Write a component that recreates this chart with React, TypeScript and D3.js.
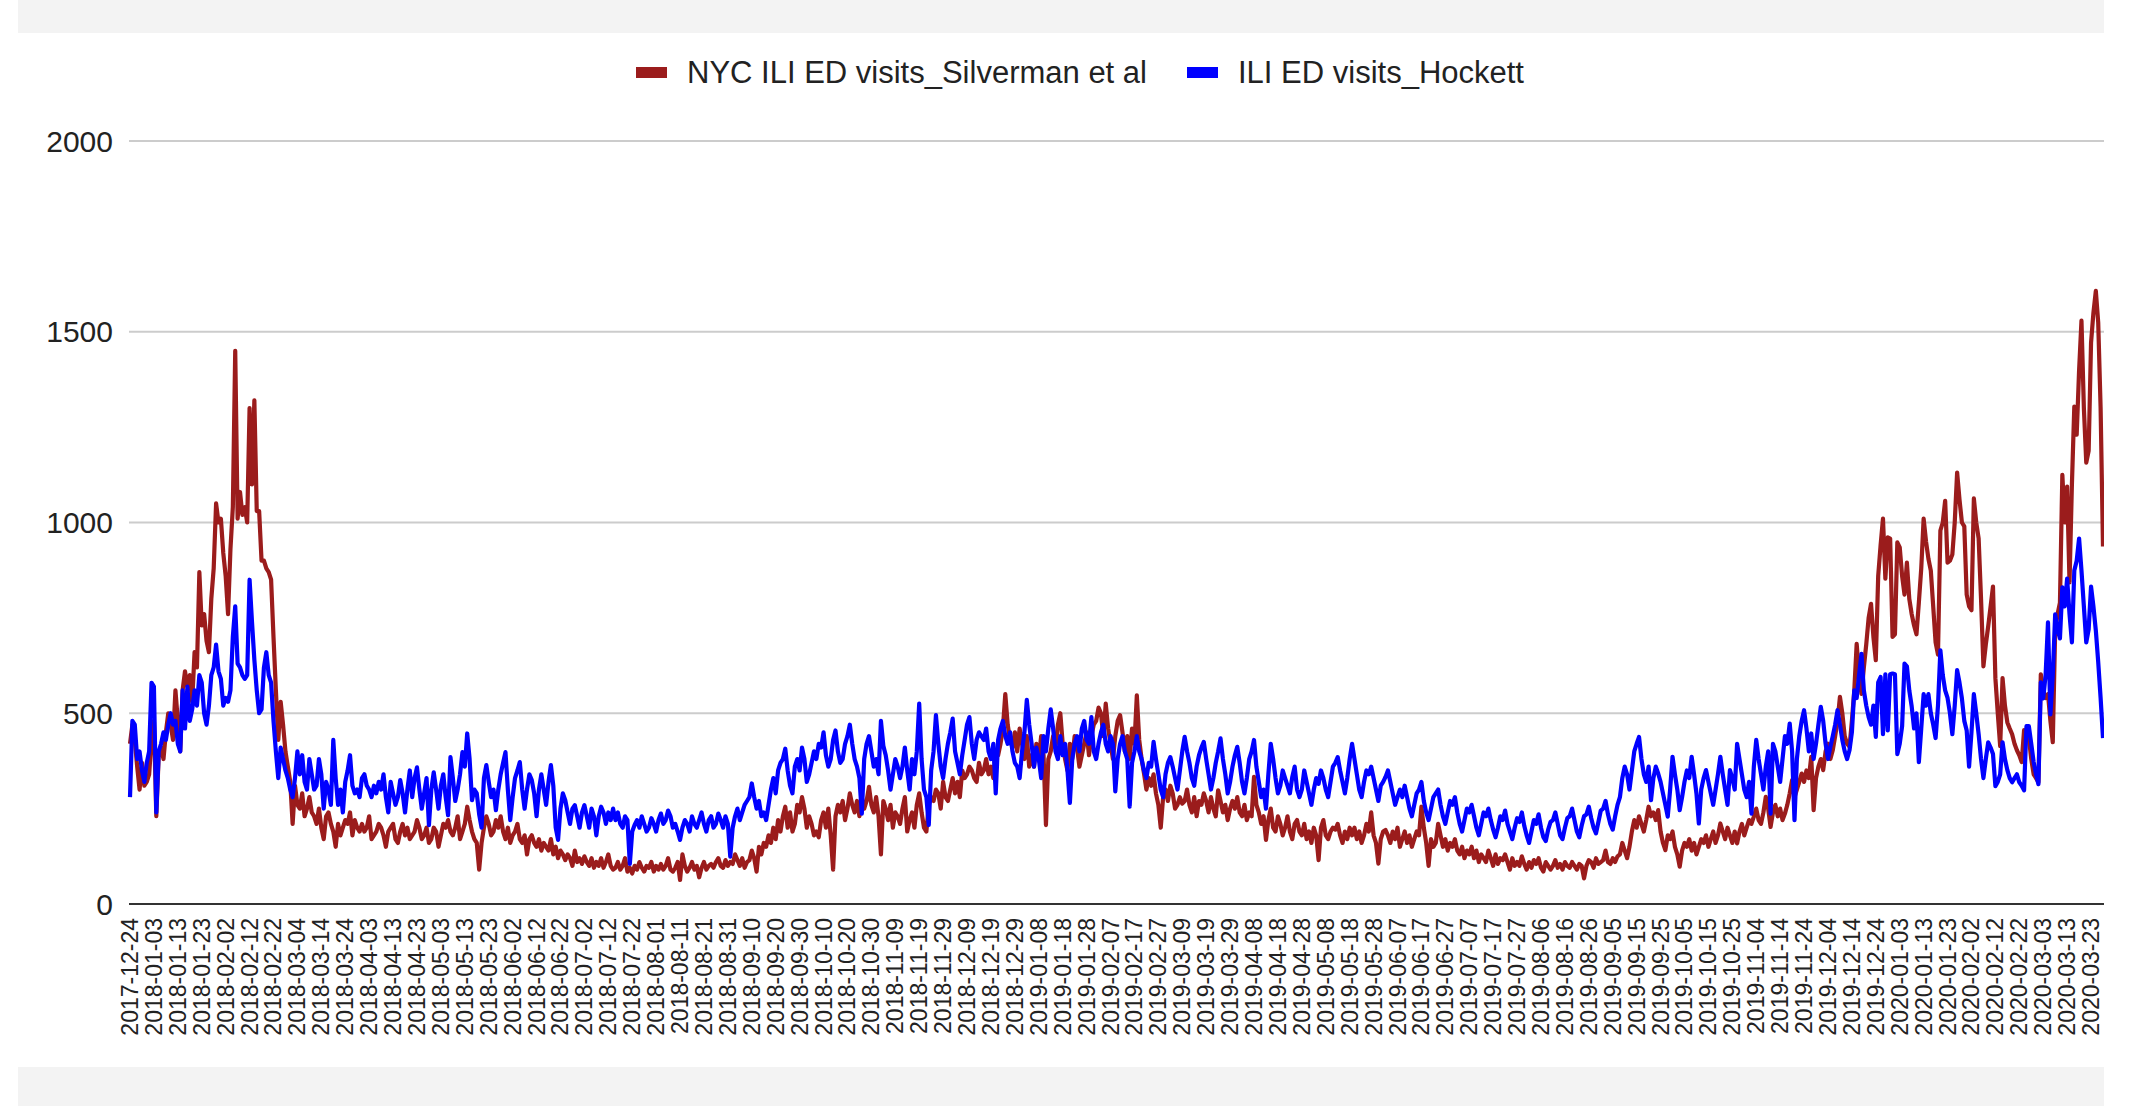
import React from "react";
import * as d3 from "d3";

// daily ILI emergency-department visits, starting 2017-12-24, one row per week
const START_DATE = new Date(2017, 11, 24);

const SILVERMAN = [
  420, 470, 430, 360, 300, 370, 310,
  320, 340, 430, 480, 230, 390, 410,
  380, 450, 500, 470, 430, 560, 480,
  400, 560, 610, 570, 600, 530, 660,
  620, 870, 730, 760, 690, 660, 800,
  880, 1050, 1000, 1010, 920, 860, 760,
  930, 1040, 1450, 1010, 1080, 1020, 1040,
  1000, 1300, 1100, 1320, 1030, 1030, 900,
  900, 880, 870, 850, 700, 560, 430,
  530, 470, 400, 360, 320, 210, 310,
  260, 250, 290, 230, 250, 280, 240,
  230, 210, 250, 200, 170, 230, 240,
  210, 190, 150, 210, 180, 200, 220,
  210, 240, 180, 220, 200, 190, 210,
  190, 200, 230, 170, 180, 190, 210,
  200, 180, 150, 190, 200, 210, 170,
  160, 190, 210, 180, 200, 170, 180,
  190, 220, 200, 170, 180, 200, 160,
  170, 200, 190, 150, 180, 210, 200,
  220, 190, 180, 200, 230, 170, 190,
  210, 255, 220, 190, 170, 160, 90,
  160, 200, 230, 210, 180, 190, 220,
  200, 230, 190, 170, 200, 160, 180,
  190, 210, 170, 160, 180, 130, 170,
  180, 160, 150, 170, 140, 160, 150,
  140, 170, 130, 150, 120, 140, 130,
  115, 130, 120, 100, 140, 110, 120,
  105, 125, 110, 100, 120, 95, 110,
  100, 120, 95, 110, 130, 100, 90,
  95, 110, 90, 100, 120, 85, 95,
  80, 100, 90, 110, 95, 85, 100,
  95, 110, 85, 100, 90, 105, 90,
  100, 120, 90, 85, 95, 110, 63,
  130, 100, 85, 95, 110, 90, 100,
  70, 95, 110, 90, 100, 105, 95,
  110, 120, 100, 95, 115, 100, 110,
  105, 130, 115, 100, 120, 95, 110,
  115, 140, 120, 85, 150, 130, 160,
  150, 180, 160, 200, 170, 220, 190,
  230, 255, 200, 240, 190, 210, 260,
  240, 280, 250, 200, 230, 210, 180,
  190, 175, 220, 240, 200, 250, 180,
  90, 230, 260, 240, 270, 220, 250,
  290, 260, 240, 270, 230, 280, 250,
  270, 307, 260, 240, 280, 230, 130,
  270, 250, 220, 260, 200, 240, 230,
  210, 250, 280, 190, 220, 240, 200,
  260, 290, 240, 200, 190, 260, 280,
  270, 300, 290, 250, 320, 280, 270,
  300, 330, 290, 320, 280, 350, 330,
  340, 360, 350, 330, 320, 370, 340,
  350, 380, 340, 360, 330, 400, 390,
  420, 460, 550, 470, 430, 410, 450,
  400, 460, 420, 380, 440, 360, 390,
  360, 420, 380, 440, 390, 207, 380,
  400, 440, 410, 470, 500, 420, 380,
  350, 420, 380, 440, 410, 360, 390,
  420, 450, 390, 440, 470, 480, 515,
  500, 440, 525, 460, 420, 380, 440,
  480, 495, 450, 400, 440, 380, 460,
  420, 547, 430, 380, 342, 300, 330,
  310, 340, 290, 260, 200, 280, 300,
  270, 310, 290, 250, 260, 280, 263,
  270, 300, 260, 240, 280, 230, 270,
  260, 290, 270, 240, 280, 250, 230,
  298, 270, 240, 260, 220, 250, 270,
  250, 280, 240, 230, 260, 220, 240,
  230, 333, 260, 240, 210, 230, 168,
  220, 250, 200, 190, 230, 210, 180,
  200, 230, 190, 170, 210, 220, 190,
  180, 210, 170, 190, 160, 200, 180,
  115, 200, 220, 180, 170, 190, 200,
  195, 210, 180, 160, 190, 170, 200,
  180, 200, 170, 190, 160, 180, 210,
  190, 240, 180, 160, 106, 170, 190,
  194, 180, 160, 190, 170, 200, 150,
  170, 190, 160, 180, 150, 170, 190,
  180, 255, 200, 160, 100, 170, 150,
  160, 210, 180, 150, 170, 140, 160,
  150, 170, 140, 130, 150, 120, 140,
  130, 150, 120, 140, 110, 130, 120,
  110, 140, 120, 100, 130, 105, 120,
  115, 130, 110, 90, 120, 100, 110,
  100, 125, 105, 90, 110, 95, 115,
  105, 120, 95, 85, 110, 100, 90,
  100, 115, 95, 105, 90, 110, 100,
  95, 110, 100, 90, 105, 100, 67,
  100, 115, 110, 95, 120, 105, 110,
  115, 140, 110, 105, 120, 110, 125,
  130, 160, 140, 120, 150, 190, 220,
  200, 230, 210, 190, 220, 255, 230,
  240, 220, 246, 190, 160, 141, 180,
  170, 190, 150, 130, 98, 140, 160,
  150, 170, 140, 160, 130, 150, 170,
  160, 180, 150, 170, 190, 160, 180,
  211, 190, 170, 200, 180, 160, 190,
  159, 190, 210, 180, 200, 220, 210,
  229, 250, 220, 210, 240, 281, 250,
  202, 240, 260, 230, 250, 220, 237,
  260, 290, 325, 280, 300, 320, 342,
  320, 350, 330, 386, 246, 330, 360,
  380, 351, 400, 420, 380, 403, 440,
  480, 543, 500, 440, 420, 412, 480,
  560, 682, 600, 551, 620, 680, 750,
  787, 700, 639, 860, 940, 1010, 853,
  961, 958, 700, 707, 948, 935, 860,
  811, 895, 800, 760, 730, 707, 790,
  880, 1010, 950, 905, 874, 780, 686,
  654, 979, 1000, 1057, 895, 900, 916,
  1000, 1131, 1060, 1000, 990, 811, 780,
  770, 1063, 1000, 958, 800, 623, 680,
  728, 780, 832, 592, 500, 414, 592,
  520, 476, 460, 445, 420, 403, 390,
  372, 456, 440, 435, 380, 340, 330,
  319, 602, 560, 540, 550, 480, 424,
  717, 760, 790, 1125, 1000, 1094, 843,
  1100, 1304, 1230, 1398, 1529, 1300, 1157,
  1188, 1471, 1550, 1607, 1524, 1300, 937,
];

const HOCKETT = [
  280, 480, 470, 380, 400, 350, 320,
  370, 400, 580, 570, 240, 400, 420,
  450, 430, 470, 500, 470, 480, 420,
  400, 560, 460, 570, 480, 510, 560,
  520, 600, 580, 500, 470, 520, 600,
  620, 680, 610, 590, 520, 540, 530,
  560, 700, 780, 630, 620, 600, 590,
  600, 850, 740, 640, 560, 500, 510,
  620, 660, 600, 580, 480, 400, 330,
  410, 380, 350, 330, 300, 280, 330,
  400, 340, 390, 320, 300, 380, 340,
  300, 310, 380, 340, 250, 320, 300,
  260, 430, 330, 260, 300, 240, 320,
  350, 390, 310, 290, 300, 280, 330,
  340, 310, 300, 280, 310, 290, 320,
  300, 340, 280, 240, 320, 290, 260,
  280, 325, 290, 240, 300, 350, 280,
  330, 358, 300, 250, 290, 330, 207,
  300, 345, 300, 250, 310, 340, 280,
  233, 385, 330, 270, 300, 340, 398,
  360, 447, 380, 272, 300, 290, 235,
  200, 330, 364, 320, 280, 300, 246,
  300, 340, 370, 398, 300, 220, 280,
  330, 350, 372, 300, 250, 300, 340,
  325, 290, 230, 300, 340, 300, 260,
  320, 364, 310, 200, 168, 250, 290,
  272, 240, 210, 250, 259, 230, 200,
  240, 259, 230, 200, 250, 230, 180,
  230, 255, 240, 210, 240, 220, 250,
  220, 240, 210, 200, 230, 220, 105,
  190, 207, 220, 200, 230, 210, 190,
  200, 225, 210, 190, 220, 237, 210,
  220, 245, 230, 200, 210, 190, 168,
  200, 220, 210, 190, 230, 210, 200,
  220, 240, 210, 190, 220, 230, 200,
  210, 237, 220, 200, 230, 210, 124,
  200, 230, 250, 220, 240, 260, 270,
  280, 316, 280, 250, 270, 230, 240,
  220, 260, 300, 330, 290, 350, 370,
  380, 407, 350, 310, 290, 360, 380,
  350, 410, 380, 320, 340, 370, 400,
  380, 420, 410, 450, 390, 360, 380,
  430, 455, 400, 370, 380, 420, 440,
  470, 420, 380, 360, 330, 237, 380,
  420, 440, 400, 360, 380, 340, 480,
  415, 390, 350, 300, 340, 380, 360,
  330, 360, 410, 350, 300, 380, 340,
  400, 525, 380, 300, 280, 207, 350,
  400, 495, 420, 360, 330, 380, 420,
  450, 486, 400, 370, 340, 390, 430,
  470, 490, 420, 380, 430, 450, 440,
  430, 460, 400, 380, 420, 290, 430,
  460, 480, 440, 420, 450, 400, 370,
  360, 330, 400, 450, 535, 470, 420,
  360, 410, 380, 330, 440, 400, 460,
  510, 460, 400, 380, 440, 390, 420,
  350, 265, 380, 420, 440, 400, 460,
  480, 430, 420, 490, 400, 380, 420,
  450, 470, 420, 400, 440, 420, 295,
  380, 420, 440, 400, 380, 255, 370,
  400, 440, 400, 380, 350, 330, 370,
  360, 425, 380, 340, 300, 280, 340,
  370, 385, 360, 330, 300, 350, 400,
  438, 400, 370, 330, 310, 360, 390,
  410, 425, 380, 340, 300, 330, 370,
  400, 434, 380, 340, 290, 320, 360,
  390, 412, 370, 320, 290, 330, 380,
  400, 430, 360, 320, 280, 300, 250,
  340, 420, 380, 330, 290, 310, 350,
  330, 310, 290, 333, 360, 300, 280,
  300, 350, 320, 290, 260, 300, 330,
  315, 350, 330, 300, 280, 320, 360,
  370, 385, 350, 320, 290, 330, 380,
  420, 380, 340, 300, 280, 320, 350,
  340, 360, 330, 300, 270, 310, 320,
  333, 350, 320, 290, 260, 280, 300,
  280, 310, 280, 250, 230, 260, 290,
  300, 320, 270, 240, 220, 250, 280,
  290, 300, 260, 230, 210, 240, 270,
  260, 280, 240, 210, 190, 220, 250,
  240, 260, 230, 200, 180, 210, 240,
  230, 250, 220, 195, 175, 200, 230,
  220, 245, 210, 190, 170, 200, 225,
  215, 240, 205, 180, 160, 190, 220,
  210, 235, 200, 175, 165, 195, 215,
  220, 240, 210, 180, 170, 200, 225,
  230, 250, 220, 190, 175, 205, 230,
  235, 255, 225, 200, 185, 215, 245,
  250, 270, 235, 210, 195, 230, 260,
  280, 330, 360, 340, 300, 350, 400,
  420, 438, 380, 340, 320, 360, 272,
  330, 360, 342, 320, 290, 260, 229,
  300, 386, 340, 300, 246, 280, 320,
  350, 330, 386, 340, 290, 211, 300,
  330, 351, 320, 290, 260, 300, 340,
  386, 340, 300, 260, 351, 330, 300,
  420, 380, 340, 300, 280, 320, 237,
  360, 430, 380, 340, 300, 360, 400,
  237, 420, 400, 360, 320, 380, 440,
  420, 473, 400, 220, 380, 440, 480,
  508, 460, 400, 447, 380, 420, 470,
  517, 480, 420, 380, 412, 440, 470,
  508, 470, 430, 400, 380, 403, 450,
  560, 540, 600, 656, 560, 520, 490,
  470, 520, 438, 581, 595, 445, 602,
  455, 602, 604, 602, 393, 420, 466,
  630, 623, 560, 518, 460, 500, 372,
  460, 550, 520, 550, 500, 470, 435,
  520, 665, 600, 560, 540, 500, 445,
  520, 613, 580, 539, 480, 455, 360,
  450, 550, 500, 445, 380, 330, 380,
  424, 410, 393, 309, 320, 340, 424,
  380, 351, 330, 319, 330, 340, 319,
  310, 298, 466, 466, 420, 372, 340,
  314, 581, 539, 600, 738, 497, 600,
  759, 720, 696, 830, 780, 853, 760,
  686, 874, 900, 958, 874, 780, 686,
  720, 832, 780, 717, 634, 540, 435,
];

const SERIES_NAMES = ["NYC ILI ED visits_Silverman et al", "ILI ED visits_Hockett"];
const SERIES_COLORS = ["#9b1c1c", "#0000ff"];
const Y_TICKS = [0, 500, 1000, 1500, 2000];
const LABEL_EVERY = 10;

const FONT = "'Liberation Sans', Arial, Helvetica, sans-serif";

export default function App() {
  const width = 2130;
  const height = 1106;
  const n = SILVERMAN.length;

  const x = d3.scaleLinear().domain([0, n - 1]).range([130, 2103]);
  const y = d3.scaleLinear().domain([0, 2000]).range([904, 141]);

  const fmt = d3.timeFormat("%Y-%m-%d");
  const dates = d3.range(n).map((i) => fmt(d3.timeDay.offset(START_DATE, i)));
  const tickIdx = d3.range(0, n, LABEL_EVERY);

  const line = d3
    .line<number>()
    .x((_, i) => x(i))
    .y((d) => y(d));

  const series = [SILVERMAN, HOCKETT];

  return (
    <div style={{ position: "absolute", left: 0, top: 0 }}>
      <svg width={width} height={height} style={{ display: "block", background: "#fff" }}>
        <defs>
          <clipPath id="plot">
            <rect x={125} y={100} width={2104 - 125} height={806} />
          </clipPath>
        </defs>
        {/* grey bands of the surrounding page */}
        <rect x={18} y={0} width={2104 - 18} height={33} fill="#f3f3f3" />
        <rect x={18} y={1067} width={2104 - 18} height={height - 1067} fill="#f3f3f3" />

        {/* legend */}
        {SERIES_NAMES.map((name, k) => {
          const lx = k === 0 ? 636 : 1187;
          return (
            <g key={name}>
              <rect x={lx} y={67} width={31} height={11} fill={SERIES_COLORS[k]} />
              <text x={lx + 51} y={83} fontFamily={FONT} fontSize={31} fill="#222">
                {name}
              </text>
            </g>
          );
        })}

        {/* gridlines + y labels */}
        {Y_TICKS.map((t) => (
          <g key={t}>
            {t !== 0 && (
              <line x1={129} x2={2104} y1={y(t)} y2={y(t)} stroke="#cccccc" strokeWidth={2} />
            )}
            <text
              x={113}
              y={y(t) + 10.5}
              textAnchor="end"
              fontFamily={FONT}
              fontSize={30}
              fill="#222"
            >
              {t}
            </text>
          </g>
        ))}

        {/* series */}
        <g clipPath="url(#plot)">
          {series.map((s, k) => (
            <path
              key={k}
              d={line(s) ?? ""}
              fill="none"
              stroke={SERIES_COLORS[k]}
              strokeWidth={4.2}
              strokeLinejoin="round"
            />
          ))}
        </g>

        {/* baseline */}
        <line x1={129} x2={2104} y1={y(0)} y2={y(0)} stroke="#333" strokeWidth={2} />

        {/* x labels */}
        {tickIdx.map((i) => (
          <text
            key={i}
            transform={`translate(${x(i)},918) rotate(-90)`}
            textAnchor="end"
            dominantBaseline="central"
            fontFamily={FONT}
            fontSize={23}
            fill="#222"
          >
            {dates[i]}
          </text>
        ))}
      </svg>
    </div>
  );
}
